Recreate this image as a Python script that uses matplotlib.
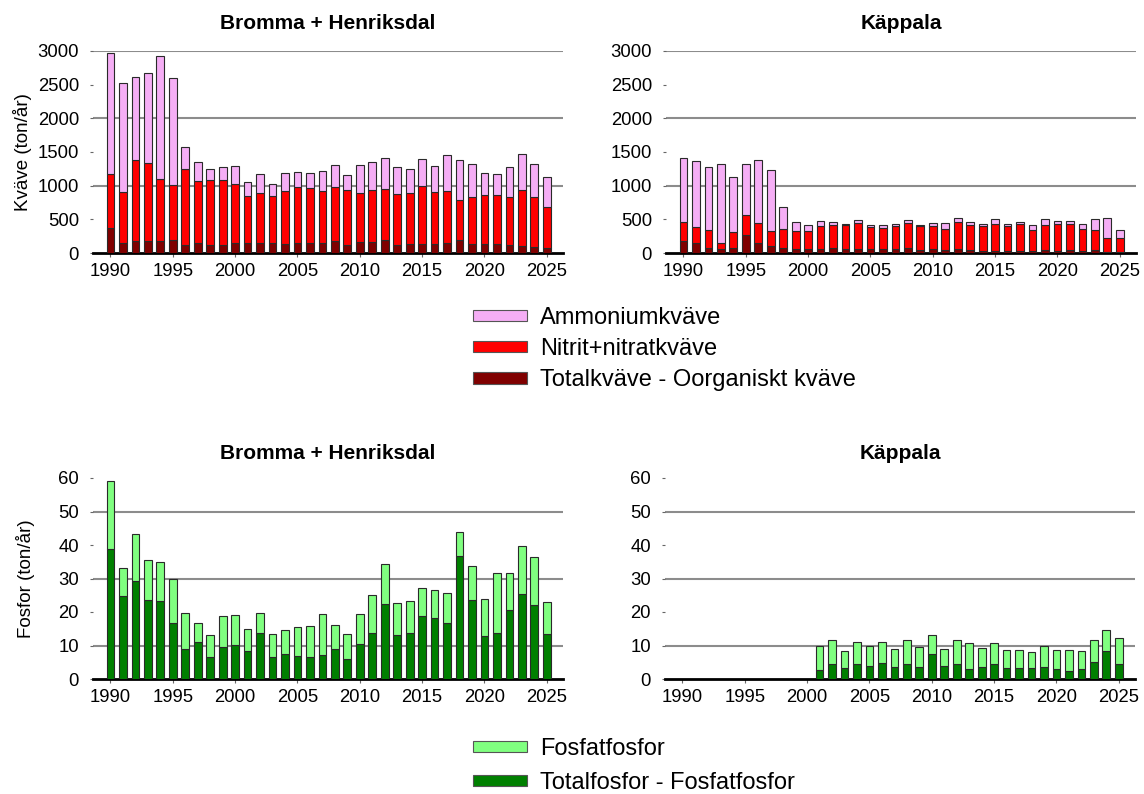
import matplotlib
matplotlib.use("Agg")
import matplotlib.pyplot as plt
from matplotlib.patches import Patch

plt.rcParams['font.family'] = ['Liberation Sans', 'DejaVu Sans']

years = list(range(1990, 2026))
tick_years = [1990, 1995, 2000, 2005, 2010, 2015, 2020, 2025]

# Bromma + Henriksdal, kväve (ton/år)
bh_org = [372, 154, 179, 174, 174, 189, 124, 149, 119, 119, 149, 149, 154, 149, 134, 149, 149, 149,
          174, 124, 164, 164, 189, 124, 129, 134, 129, 149, 189, 134, 134, 134, 124, 99, 89, 79]
bh_nox = [805, 750, 1202, 1167, 919, 819, 1123, 914, 969, 964, 874, 700, 730, 695, 780, 824, 810, 765,
          809, 810, 720, 770, 760, 755, 760, 864, 770, 775, 591, 691, 730, 720, 710, 835, 745, 611]
bh_nh4 = [1798, 1619, 1232, 1326, 1833, 1590, 323, 283, 159, 189, 263, 199, 283, 179, 268, 229, 223, 303,
          323, 218, 427, 417, 462, 393, 353, 393, 397, 531, 606, 501, 328, 323, 447, 536, 487, 438]

# Käppala, kväve (ton/år)
kp_org = [174, 149, 70, 60, 70, 268, 149, 99, 70, 60, 60, 60, 75, 60, 60, 55, 60, 60,
          70, 40, 55, 40, 55, 40, 30, 30, 30, 30, 30, 40, 30, 40, 30, 40, 20, 20]
kp_nox = [288, 238, 268, 94, 238, 293, 303, 224, 288, 268, 273, 342, 337, 352, 387, 332, 313, 337,
          380, 357, 342, 313, 407, 372, 367, 407, 367, 397, 313, 377, 407, 387, 328, 308, 208, 208]
kp_nh4 = [944, 979, 943, 1172, 820, 765, 929, 909, 318, 139, 79, 70, 50, 25, 40, 30, 39, 30,
          40, 20, 55, 99, 55, 55, 40, 65, 40, 40, 69, 85, 40, 50, 69, 164, 289, 110]

# Bromma + Henriksdal, fosfor (ton/år)
bh_prest = [38.7, 24.8, 29.2, 23.7, 23.4, 16.7, 8.9, 10.9, 6.6, 9.6, 10.2, 8.3, 13.8, 6.7, 7.5, 7.0, 6.7, 7.1,
            9.0, 6.0, 10.5, 13.6, 22.5, 13.1, 13.8, 18.9, 18.3, 16.8, 36.7, 23.6, 12.9, 13.8, 20.6, 25.5, 22.1, 13.5]
bh_po4 = [20.5, 8.3, 14.0, 11.9, 11.5, 13.3, 10.7, 5.7, 6.5, 9.2, 8.9, 6.7, 6.0, 6.6, 7.0, 8.4, 9.1, 12.2,
          7.1, 7.5, 8.8, 11.6, 11.7, 9.5, 9.4, 8.3, 8.2, 9.0, 7.3, 10.1, 11.0, 17.9, 11.1, 14.2, 14.2, 9.4]

# Käppala, fosfor (ton/år) – data from 2001
kp_p_years = list(range(2001, 2026))
kp_prest = [2.8, 4.6, 3.2, 4.6, 3.8, 4.8, 3.7, 4.5, 3.7, 7.4, 3.8, 4.6, 2.9, 3.5, 4.4, 3.3, 3.3, 3.3,
            3.5, 2.9, 2.5, 3.1, 5.1, 8.4, 4.4]
kp_po4 = [7.1, 7.0, 5.3, 6.5, 6.0, 6.2, 5.4, 7.2, 6.0, 5.8, 5.3, 7.0, 7.7, 5.8, 6.2, 5.4, 5.5, 4.7,
          6.3, 5.8, 6.3, 5.3, 6.5, 6.2, 7.8]

C_NH4 = '#F5AEF5'
C_NOX = '#FF0000'
C_ORG = '#800000'
C_PO4 = '#80FF80'
C_PREST = '#008000'
EDGE = '#2a2a2a'

W, H = 1144, 794
fig = plt.figure(figsize=(W / 100, H / 100), dpi=100)


def ax_at(x0, x1, ytop, ybot):
    return fig.add_axes([x0 / W, 1 - ybot / H, (x1 - x0) / W, (ybot - ytop) / H])


def style(ax, ymax, ystep, grid_vals, title, tpad):
    ax.set_xlim(1988.6, 2026.3)
    ax.set_ylim(0, ymax)
    ax.set_yticks(list(range(0, ymax + 1, ystep)))
    ax.set_xticks(tick_years)
    ax.set_xticklabels([str(y) for y in tick_years])
    for g in grid_vals:
        ax.axhline(g, color='#8c8c8c', lw=1.5, zorder=0)
    for s in ['top', 'right', 'left']:
        ax.spines[s].set_visible(False)
    ax.spines['bottom'].set_linewidth(2.0)
    ax.spines['bottom'].set_color('black')
    ax.tick_params(axis='y', length=2, width=0.8, color='#666666', labelsize=13.3, pad=8)
    ax.tick_params(axis='x', length=3, width=0.8, color='#666666', labelsize=13.3, pad=4)
    ax.set_title(title, fontsize=15, fontweight='bold', pad=tpad)


bw = 0.62
kw = dict(width=bw, edgecolor=EDGE, linewidth=0.8, zorder=3)

# Top-left
ax1 = ax_at(93, 563, 51, 253)
ax1.bar(years, bh_org, color=C_ORG, **kw)
ax1.bar(years, bh_nox, bottom=bh_org, color=C_NOX, **kw)
b_nh_bottom = [a + b for a, b in zip(bh_org, bh_nox)]
ax1.bar(years, bh_nh4, bottom=b_nh_bottom, color=C_NH4, **kw)
style(ax1, 3000, 500, [1000, 2000, 3000], 'Bromma + Henriksdal', 16)
ax1.set_ylabel('Kväve (ton/år)', fontsize=13.5)
ax1.yaxis.set_label_coords((32 - 93) / 470, 0.5)

# Top-right
ax2 = ax_at(666, 1136, 51, 253)
ax2.bar(years, kp_org, color=C_ORG, **kw)
ax2.bar(years, kp_nox, bottom=kp_org, color=C_NOX, **kw)
k_nh_bottom = [a + b for a, b in zip(kp_org, kp_nox)]
ax2.bar(years, kp_nh4, bottom=k_nh_bottom, color=C_NH4, **kw)
style(ax2, 3000, 500, [1000, 2000, 3000], 'Käppala', 16)

# Bottom-left
ax3 = ax_at(93, 563, 478, 679)
ax3.bar(years, bh_prest, color=C_PREST, **kw)
ax3.bar(years, bh_po4, bottom=bh_prest, color=C_PO4, **kw)
style(ax3, 60, 10, [10, 30, 50], 'Bromma + Henriksdal', 13.5)
ax3.set_ylabel('Fosfor (ton/år)', fontsize=13.5)
ax3.yaxis.set_label_coords((35 - 93) / 470, 0.5)

# Bottom-right
ax4 = ax_at(665, 1135, 478, 679)
ax4.bar(kp_p_years, kp_prest, color=C_PREST, **kw)
ax4.bar(kp_p_years, kp_po4, bottom=kp_prest, color=C_PO4, **kw)
style(ax4, 60, 10, [10, 30, 50], 'Käppala', 13.5)

# Legends
hN = [Patch(facecolor=C_NH4, edgecolor='#555555', lw=0.8),
      Patch(facecolor=C_NOX, edgecolor='#555555', lw=0.8),
      Patch(facecolor=C_ORG, edgecolor='#555555', lw=0.8)]
lN = ['Ammoniumkväve', 'Nitrit+nitratkväve', 'Totalkväve - Oorganiskt kväve']
fig.legend(hN, lN, loc='upper left', bbox_to_anchor=(473 / W, 1 - 307 / H), frameon=False,
           fontsize=17, handlelength=2.3, handleheight=0.37, handletextpad=0.55,
           labelspacing=0.39, borderpad=0, borderaxespad=0)

hP = [Patch(facecolor=C_PO4, edgecolor='#555555', lw=0.8),
      Patch(facecolor=C_PREST, edgecolor='#555555', lw=0.8)]
lP = ['Fosfatfosfor', 'Totalfosfor - Fosfatfosfor']
fig.legend(hP, lP, loc='upper left', bbox_to_anchor=(473 / W, 1 - 738 / H), frameon=False,
           fontsize=17, handlelength=2.3, handleheight=0.37, handletextpad=0.55,
           labelspacing=0.5, borderpad=0, borderaxespad=0)

fig.savefig('out.png', dpi=100, facecolor='white')
